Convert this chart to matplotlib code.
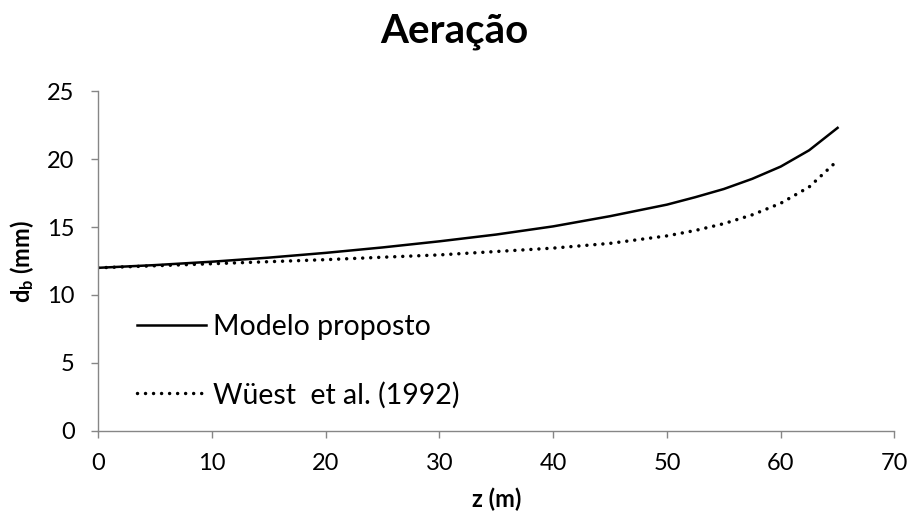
import numpy as np
import matplotlib
matplotlib.use("Agg")
import matplotlib.pyplot as plt

plt.rcParams['font.family'] = ['Lato', 'DejaVu Sans']
plt.rcParams['mathtext.fontset'] = 'custom'
plt.rcParams['mathtext.rm'] = 'Lato'
plt.rcParams['mathtext.bf'] = 'Lato:bold'

# depth z (m) and bubble diameter d_b (mm)
z_model = [0, 5, 10, 15, 20, 25, 30, 35, 40, 45, 50, 52.5, 55, 57.5, 60, 62.5, 65]
db_model = [12.0, 12.2, 12.45, 12.75, 13.1, 13.5, 13.95, 14.45, 15.05, 15.8,
            16.65, 17.2, 17.8, 18.55, 19.45, 20.65, 22.3]

z_wuest = [0, 5, 10, 15, 20, 25, 30, 35, 40, 45, 50, 52.5, 55, 57.5, 60, 62.5, 65]
db_wuest = [12.0, 12.15, 12.3, 12.45, 12.6, 12.78, 12.95, 13.2, 13.45, 13.8,
            14.35, 14.75, 15.25, 15.9, 16.75, 17.95, 19.9]

labels = ["Modelo proposto", "Wüest  et al. (1992)"]

fig = plt.figure(figsize=(9.09, 5.21), dpi=100)
ax = fig.add_axes([0.108, 0.173, 0.876, 0.652])

ax.plot(z_model, db_model, color='black', lw=1.8, label=labels[0])
ax.plot(z_wuest, db_wuest, color='black', lw=2.5, linestyle=(0, (0.01, 2.3)),
        dash_capstyle='round', label=labels[1])

ax.set_xlim(0, 70)
ax.set_ylim(0, 25)
ax.set_xticks(range(0, 71, 10))
ax.set_yticks(range(0, 26, 5))

grey = '#868686'
for side in ['top', 'right']:
    ax.spines[side].set_visible(False)
for side in ['left', 'bottom']:
    ax.spines[side].set_color(grey)
    ax.spines[side].set_linewidth(1.0)
ax.tick_params(axis='both', colors=grey, labelcolor='black', labelsize=17,
               length=5, width=1.0, direction='out')
ax.tick_params(axis='x', pad=11)
ax.tick_params(axis='y', pad=12)

fig.text(0.5, 1 - 43 / 521, "Aeração", fontsize=29, fontweight='bold',
         ha='center', va='baseline')
ax.set_xlabel("z (m)", fontsize=17, fontweight='bold', labelpad=10)
ax.set_ylabel(r"$\mathbf{d_b}$ (mm)", fontsize=17, fontweight='bold', labelpad=8)

ax.legend(loc='center left', bbox_to_anchor=(0.049, 0.205), frameon=False,
          fontsize=20.5, handlelength=2.4, handletextpad=0.28, labelspacing=1.45,
          borderpad=0, borderaxespad=0)

fig.savefig("out.png", dpi=100)
